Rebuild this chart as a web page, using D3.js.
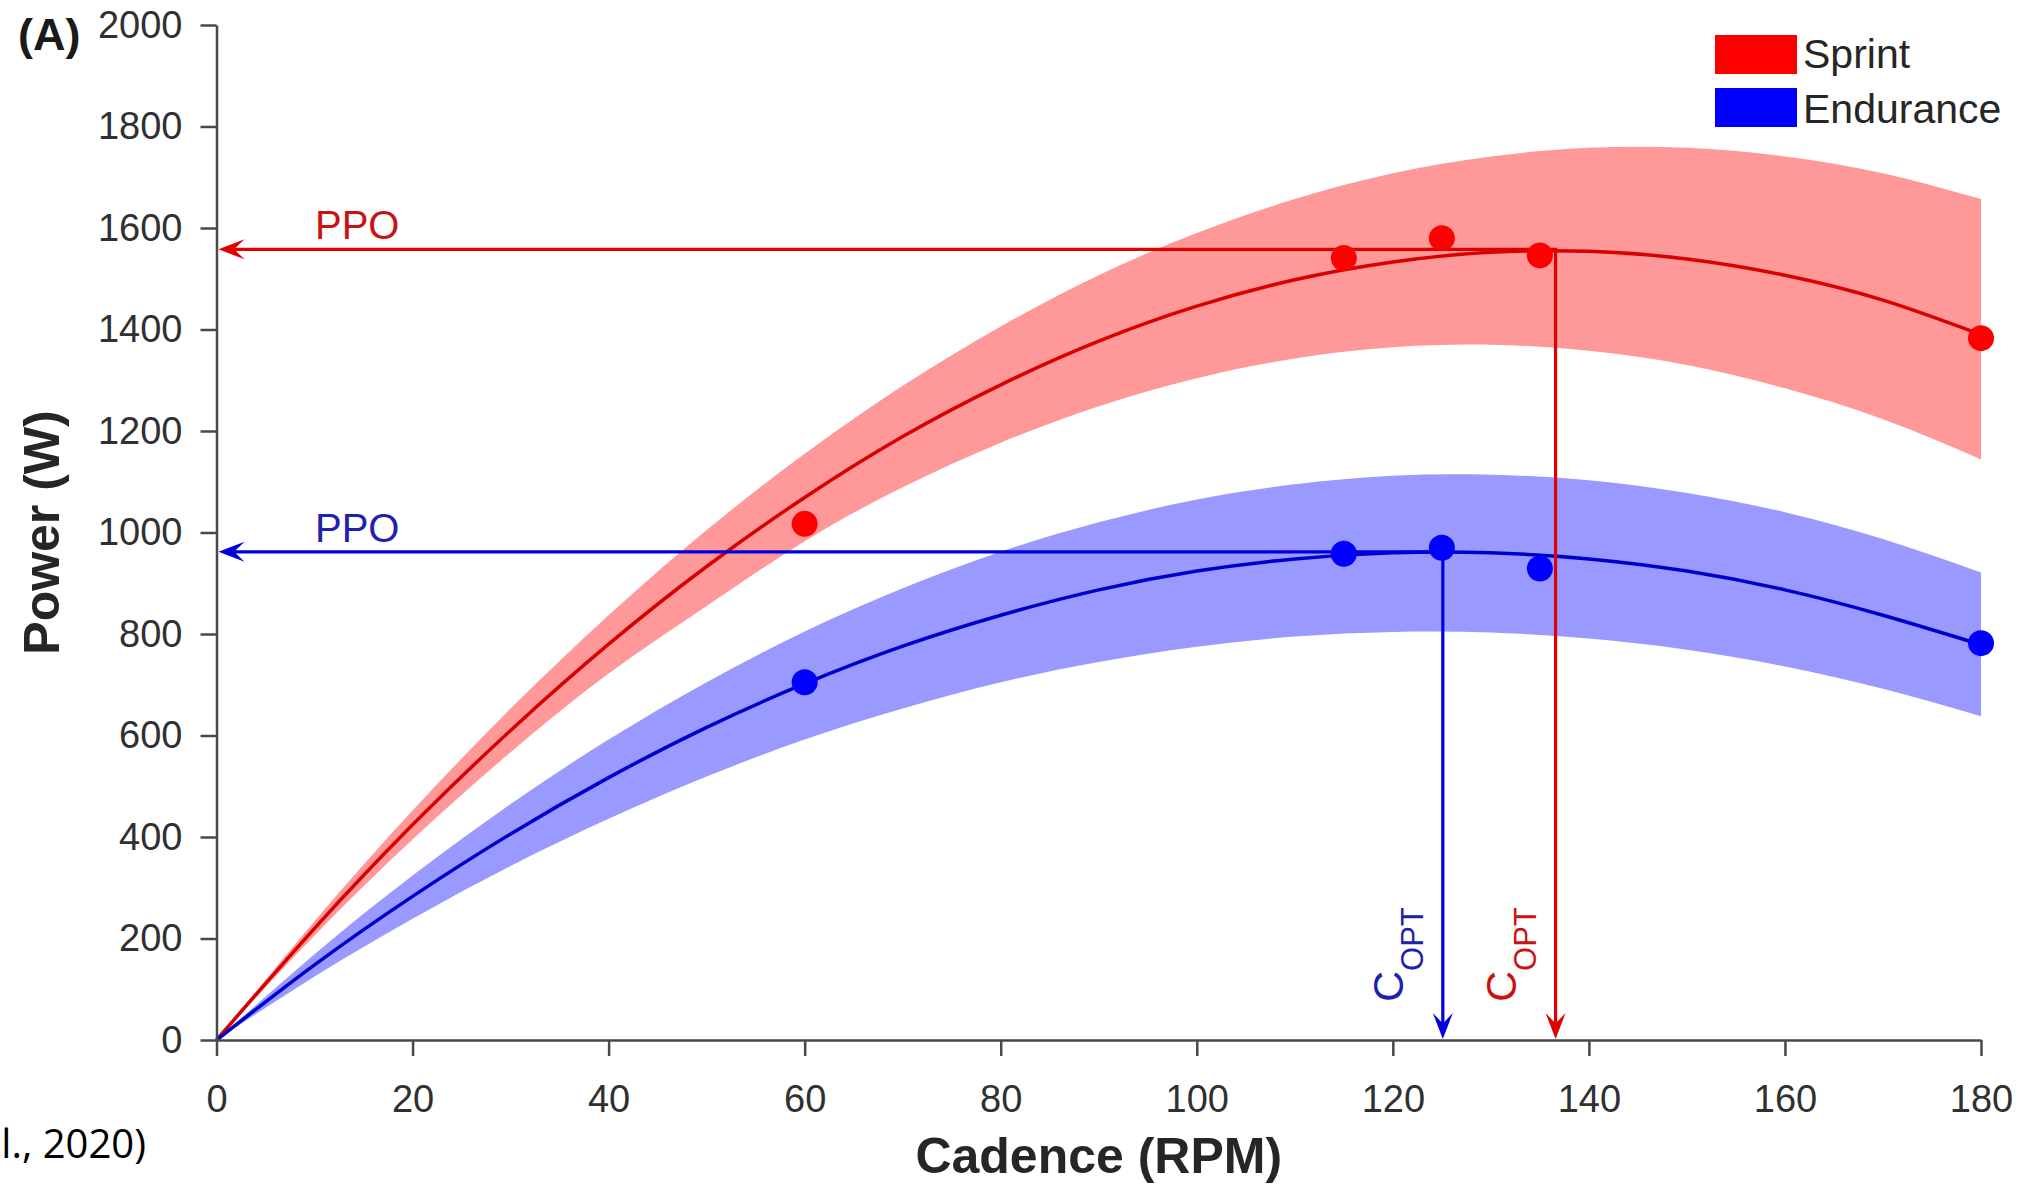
<!DOCTYPE html>
<html>
<head>
<meta charset="utf-8">
<script src="https://cdn.jsdelivr.net/npm/d3@7"></script>
<style>
  html, body { margin: 0; padding: 0; background: #fff; }
  svg { display: block; }
  text { font-family: "Liberation Sans", Arial, Helvetica, sans-serif; }
</style>
</head>
<body>
<svg id="chart" width="2031" height="1188"></svg>
<script>
// ---------------- data ----------------
const xTicks = [0, 20, 40, 60, 80, 100, 120, 140, 160, 180];
const yTicks = [0, 200, 400, 600, 800, 1000, 1200, 1400, 1600, 1800, 2000];

// cadence grid on which the fitted curves / bands were read
const cadenceGrid = [0, 10, 20, 30, 40, 50, 60, 70, 80, 90, 100, 110, 120, 130, 140, 150, 160, 170, 180];

const sprintFit   = [0, 220, 424, 610, 780, 933, 1069, 1189, 1291, 1377, 1446, 1498, 1533, 1552, 1554, 1539, 1507, 1458, 1390];
const sprintUpper = [0, 234, 452, 653, 837, 1005, 1155, 1289, 1406, 1507, 1590, 1657, 1708, 1741, 1758, 1758, 1741, 1708, 1657];
const sprintLower = [0, 206, 395, 567, 722, 855, 983, 1089, 1177, 1249, 1304, 1343, 1365, 1370, 1358, 1330, 1284, 1223, 1144];

const enduranceFit   = [0, 148, 283, 406, 517, 616, 702, 776, 837, 887, 924, 948, 960, 960, 948, 924, 887, 837, 779];
const enduranceUpper = [0, 169, 324, 465, 592, 705, 805, 890, 962, 1020, 1065, 1095, 1112, 1114, 1103, 1078, 1040, 987, 921];
const enduranceLower = [0, 125, 239, 343, 436, 519, 592, 653, 705, 745, 775, 795, 804, 803, 791, 769, 736, 692, 638];

// measured points
const pointCadence   = [60, 115, 125, 135, 180];
const sprintPoints   = [1017, 1541, 1580, 1546, 1383];
const endurancePoints = [705, 958, 970, 929, 782];

// peak power output and optimal cadence
const sprintPPO = 1558, sprintCopt = 136.6;
const endurancePPO = 962, enduranceCopt = 125.1;

const seriesNames = ["Sprint", "Endurance"];

// ---------------- layout ----------------
const svg = d3.select("#chart");
const x = d3.scaleLinear().domain([0, 180]).range([216.5, 1981]);
const y = d3.scaleLinear().domain([0, 2000]).range([1040, 25]);

const RED = "#ff0000", BLUE = "#0000ff";
const RED_BAND = "#ff9999", BLUE_BAND = "#9999ff";
const RED_LINE = "#d80000", BLUE_LINE = "#0000cc";
const RED_TEXT = "#cc1111", BLUE_TEXT = "#2020b0";

// bands
const band = (lo, hi) => d3.area()
  .x((d, i) => x(cadenceGrid[i]))
  .y0((d, i) => y(lo[i]))
  .y1((d, i) => y(hi[i]))
  .curve(d3.curveNatural)(cadenceGrid);

svg.append("path").attr("d", band(sprintLower, sprintUpper)).attr("fill", RED_BAND);
svg.append("path").attr("d", band(enduranceLower, enduranceUpper)).attr("fill", BLUE_BAND);

// fit lines
const fitLine = vals => d3.line()
  .x((d, i) => x(cadenceGrid[i]))
  .y((d, i) => y(vals[i]))
  .curve(d3.curveNatural)(cadenceGrid);

svg.append("path").attr("d", fitLine(sprintFit)).attr("fill", "none").attr("stroke", RED_LINE).attr("stroke-width", 3.5);
svg.append("path").attr("d", fitLine(enduranceFit)).attr("fill", "none").attr("stroke", BLUE_LINE).attr("stroke-width", 3.5);

// ---------------- axes ----------------
const axisColor = "#484848";
const gy = svg.append("g").attr("transform", `translate(${x(0)},0)`)
  .call(d3.axisLeft(y).tickValues(yTicks).tickSize(16).tickSizeOuter(0).tickPadding(18).tickFormat(d3.format("d")));
const gx = svg.append("g").attr("transform", `translate(0,${y(0)})`)
  .call(d3.axisBottom(x).tickValues(xTicks).tickSize(16).tickSizeOuter(0).tickPadding(29).tickFormat(d3.format("d")));
[gx, gy].forEach(g => {
  g.select(".domain").attr("stroke", axisColor).attr("stroke-width", 2.5);
  g.selectAll(".tick line").attr("stroke", axisColor).attr("stroke-width", 2.5);
  g.selectAll(".tick text").attr("fill", "#303030").style("font-size", "38px")
    .style("font-family", '"Liberation Sans", Arial, sans-serif');
});

// ---------------- arrows ----------------
function arrowHead(tipX, tipY, dir, color) {
  // dir: "left" or "down"
  const L = 26, W = 10, N = 0.6 * L;
  let pts;
  if (dir === "left") pts = [[tipX, tipY], [tipX + L, tipY - W], [tipX + N, tipY], [tipX + L, tipY + W]];
  else pts = [[tipX, tipY], [tipX - W, tipY - L], [tipX, tipY - N], [tipX + W, tipY - L]];
  svg.append("path").attr("d", "M" + pts.map(p => p.join(",")).join("L") + "Z").attr("fill", color);
}
function ppoArrows(ppo, copt, color) {
  svg.append("path")
    .attr("d", `M${x(0) + 8},${y(ppo)}H${x(copt)}V${y(0) - 8}`)
    .attr("fill", "none").attr("stroke", color).attr("stroke-width", 3.2);
  arrowHead(x(0) + 2, y(ppo), "left", color);
  arrowHead(x(copt), y(0) - 1, "down", color);
}
ppoArrows(sprintPPO, sprintCopt, "#e00000");
ppoArrows(endurancePPO, enduranceCopt, "#0000dd");

// points
svg.append("g").selectAll("circle").data(pointCadence).join("circle")
  .attr("cx", d => x(d)).attr("cy", (d, i) => y(sprintPoints[i])).attr("r", 13).attr("fill", RED);
svg.append("g").selectAll("circle").data(pointCadence).join("circle")
  .attr("cx", d => x(d)).attr("cy", (d, i) => y(endurancePoints[i])).attr("r", 13).attr("fill", BLUE);

// PPO labels
svg.append("text").attr("x", 315).attr("y", y(sprintPPO) - 10).attr("fill", RED_TEXT)
  .style("font-size", "40px").text("PPO");
svg.append("text").attr("x", 315).attr("y", y(endurancePPO) - 10).attr("fill", BLUE_TEXT)
  .style("font-size", "40px").text("PPO");

// C_OPT labels
function coptLabel(copt, color) {
  const t = svg.append("text")
    .attr("transform", `translate(${x(copt) - 40},${y(0) - 38}) rotate(-90)`)
    .attr("fill", color);
  t.append("tspan").style("font-size", "43px").text("C");
  t.append("tspan").attr("dy", 20).style("font-size", "31px").text("OPT");
}
coptLabel(enduranceCopt, BLUE_TEXT);
coptLabel(sprintCopt, RED_TEXT);

// ---------------- axis titles ----------------
svg.append("text").attr("x", (x(0) + x(180)) / 2).attr("y", 1173).attr("text-anchor", "middle")
  .attr("fill", "#262626").style("font-size", "50px").style("font-weight", "bold").text("Cadence (RPM)");
svg.append("text").attr("transform", `translate(59,${(y(0) + y(2000)) / 2}) rotate(-90)`)
  .attr("text-anchor", "middle").attr("fill", "#262626")
  .style("font-size", "50px").style("font-weight", "bold").text("Power (W)");

// panel letter
svg.append("text").attr("x", 18).attr("y", 50).attr("fill", "#1a1a1a")
  .style("font-size", "45px").style("font-weight", "bold").text("(A)");

// citation fragment at the image edge
svg.append("text").attr("x", 146).attr("y", 1158).attr("text-anchor", "end").attr("fill", "#000")
  .style("font-family", '"Open Sans", "Noto Sans", sans-serif').style("font-size", "40px").text("l., 2020)");

// ---------------- legend ----------------
const legendColors = [RED, BLUE];
const lg = svg.append("g");
seriesNames.forEach((name, i) => {
  lg.append("rect").attr("x", 1715).attr("y", 35 + i * 53).attr("width", 82).attr("height", 39).attr("fill", legendColors[i]);
  lg.append("text").attr("x", 1803).attr("y", 68 + i * 55).attr("fill", "#262626")
    .style("font-size", "41px").text(name);
});
</script>
</body>
</html>
